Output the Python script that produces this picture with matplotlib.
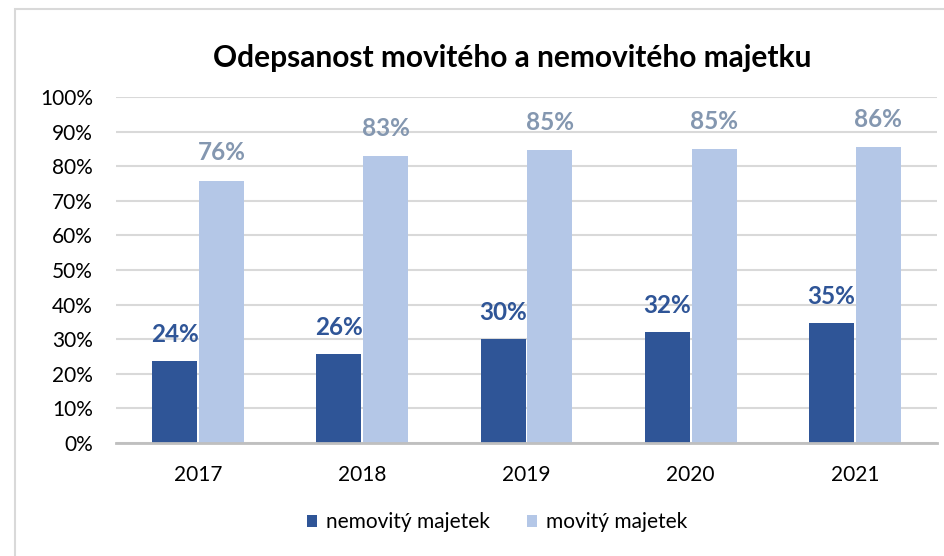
import numpy as np
import matplotlib.pyplot as plt
from matplotlib.patches import Rectangle

# --- data ---
years = ["2017", "2018", "2019", "2020", "2021"]
nemovity = [23.6, 25.8, 30.0, 32.0, 34.6]
movity = [75.8, 83.0, 84.6, 85.0, 85.6]
series_names = ["nemovitý majetek", "movitý majetek"]

dark = "#2F5597"
light = "#B4C7E7"
light_label = "#8497B0"
grid_col = "#D9D9D9"

plt.rcParams['font.family'] = ['Lato', 'DejaVu Sans']

fig = plt.figure(figsize=(9.45, 5.56), dpi=100)
ax = fig.add_axes([116 / 945, (556 - 443) / 556, (937 - 116) / 945, (443 - 97) / 556])

# frame around chart (only top and left edges visible in the reference)
fig.patches.append(Rectangle((15 / 945, -0.1), 1.2, (556 - 8.5) / 556 + 0.1,
                             transform=fig.transFigure, fill=False,
                             edgecolor="#D9D9D9", linewidth=1.5, zorder=0))

x = np.arange(len(years))
w = 0.274
gap = 0.006
b1 = ax.bar(x - w / 2 - gap, nemovity, w, color=dark, label=series_names[0], zorder=3)
b2 = ax.bar(x + w / 2 + gap, movity, w, color=light, label=series_names[1], zorder=3)

for rect, v in zip(b1, nemovity):
    ax.annotate(f"{v:.0f}%", (rect.get_x() + rect.get_width() / 2, v),
                xytext=(0, 19), textcoords="offset points", ha="center", va="center",
                fontsize=17.5, fontweight="bold", color=dark)
for rect, v in zip(b2, movity):
    ax.annotate(f"{v:.0f}%", (rect.get_x() + rect.get_width() / 2, v),
                xytext=(0, 20), textcoords="offset points", ha="center", va="center",
                fontsize=17.5, fontweight="bold", color=light_label)

ax.set_xlim(-0.5, len(years) - 0.5)
ax.set_ylim(0, 100)
ax.set_yticks(np.arange(0, 101, 10))
ax.set_yticklabels([f"{t}%" for t in range(0, 101, 10)])
ax.set_xticks(x)
ax.set_xticklabels(years)
ax.tick_params(axis="both", length=0, labelsize=15, colors="#000000")
ax.tick_params(axis="y", pad=16.5)
ax.tick_params(axis="x", pad=16)
ax.grid(axis="y", color=grid_col, linewidth=1.5, zorder=0)
for s in ["top", "right", "left"]:
    ax.spines[s].set_visible(False)
ax.spines["bottom"].set_color("#BFBFBF")
ax.spines["bottom"].set_linewidth(2)
ax.spines["bottom"].set_zorder(4)

fig.text(512 / 945, (556 - 58) / 556, "Odepsanost movitého a nemovitého majetku",
         ha="center", va="center", fontsize=21.5, fontweight="bold")

fig.legend(handles=[b1, b2], labels=series_names, loc="center",
           bbox_to_anchor=(497 / 945, (556 - 522) / 556), ncol=2, frameon=False,
           fontsize=15, handlelength=0.5, handleheight=0.5, handletextpad=0.4,
           columnspacing=1.8)

fig.savefig("out.png", dpi=100)
